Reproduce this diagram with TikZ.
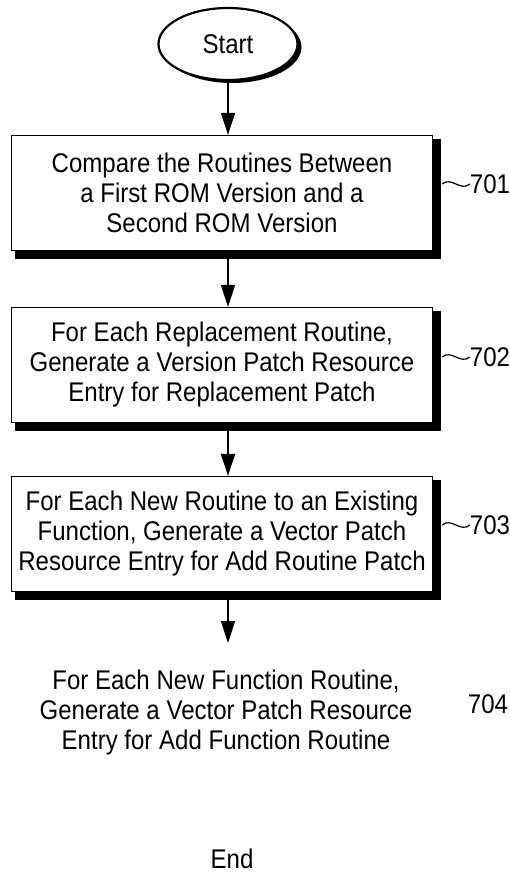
\documentclass[tikz,border=0pt]{standalone}
\usepackage{fontspec}
\setmainfont{Liberation Sans}[FakeStretch=0.89]
\usetikzlibrary{arrows.meta,calc,positioning,shapes.geometric,shadows}

\begin{document}
\begin{tikzpicture}
  [
    x=1pt,y=-1pt,
    every node/.style={font=\fontsize{27}{30}\selectfont},
    terminal/.style={ellipse,draw,fill=white,line width=2.2pt,minimum width=139pt,minimum height=72pt,inner sep=0pt,
      drop shadow={shadow xshift=4pt,shadow yshift=-3pt,fill=black,opacity=1}},
    procbox/.style={rectangle,draw,line width=1.3pt,minimum width=421pt,minimum height=115pt,align=center,inner sep=0pt},
    plain/.style={align=center,inner sep=0pt},
    reflabel/.style={inner sep=0pt},
    flow/.style={line width=1.5pt,-{Triangle[length=22pt,width=14pt]}},
    tilde/.style={line width=1.2pt}
  ]
  \useasboundingbox (0,0) rectangle (510,876);
  \node[terminal] at (228,44) (start) {Start};
  \node[procbox] at (222,193) (compare) {Compare the Routines Between\\a First ROM Version and a\\Second ROM Version};
  \node[procbox] at (222,365) (replace) {For Each Replacement Routine,\\Generate a Version Patch Resource\\Entry for Replacement Patch};
  \node[procbox] at (222,534) (addroutine) {For Each New Routine to an Existing\\Function, Generate a Vector Patch\\Resource Entry for Add Routine Patch};
  \node[plain] at (226,713) (addfunc) {For Each New Function Routine,\\Generate a Vector Patch Resource\\Entry for Add Function Routine};
  \node[plain] at (232,859) (end) {End};
  \coordinate (tip4) at (228,643);

  % heavy edge on the right and bottom of each box
  \foreach \b in {compare,replace,addroutine}
  {
    \fill ([yshift=-4pt]\b.north east) rectangle ([xshift=8pt]\b.south east);
    \fill ([xshift=4pt]\b.south west) rectangle ([xshift=8pt,yshift=-8pt]\b.south east);
  }

  \draw[flow] (start.south) -- (start |- compare.north);
  \draw[flow] (start |- compare.south) ++(0,8) -- (start |- replace.north);
  \draw[flow] (start |- replace.south) ++(0,8) -- (start |- addroutine.north);
  \draw[flow] (start |- addroutine.south) ++(0,8) -- (tip4);

  % reference numerals
  \node[reflabel] at (490,184) (l701) {701};
  \node[reflabel] at (490,357) (l702) {702};
  \node[reflabel] at (490,525) (l703) {703};
  \node[reflabel] at (488,704) (l704) {704};
  \draw[tilde] ($(compare.east |- l701)+(9,0)$) .. controls +(9,-8) and +(-9,8) .. (l701.west);
  \draw[tilde] ($(replace.east |- l702)+(9,0)$) .. controls +(9,-8) and +(-9,8) .. (l702.west);
  \draw[tilde] ($(addroutine.east |- l703)+(9,0)$) .. controls +(9,-8) and +(-9,8) .. (l703.west);
\end{tikzpicture}
\end{document}
